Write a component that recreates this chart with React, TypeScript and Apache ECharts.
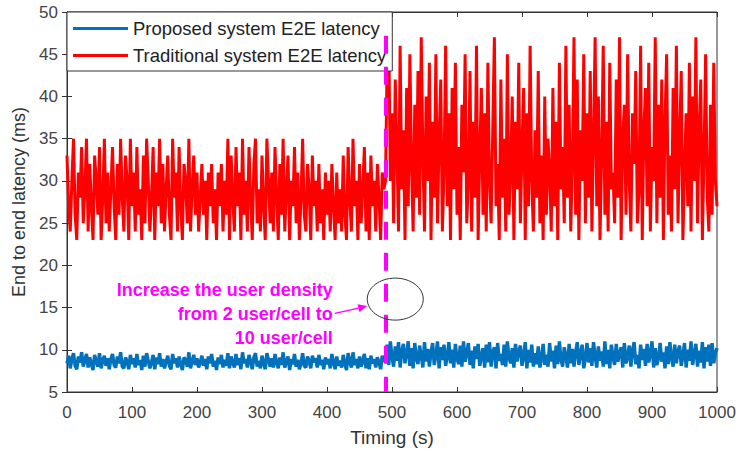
import React, { useEffect, useRef } from "react";
import * as echarts from "echarts";

// Sampling step of the recorded latency (seconds)
const STEP = 2.5;
const SWITCH_TIME = 490;

// Traditional system, 0 .. 490 s
const redBefore = [
  33, 27, 24, 30, 35, 26, 23, 31, 28, 34,
  25, 29, 35, 24, 32, 27, 23, 33, 30, 26,
  34, 23, 28, 35, 25, 31, 24, 29, 34, 27,
  23, 32, 26, 35, 28, 24, 33, 30, 23, 35,
  27, 31, 24, 34, 26, 29, 23, 33, 25, 35,
  30, 24, 28, 34, 23, 31, 27, 35, 25, 32,
  24, 29, 33, 26, 23, 35, 28, 31, 24, 34,
  27, 23, 32, 30, 25, 35, 24, 29, 33, 26,
  31, 24, 28, 32, 26, 30, 23, 31, 27, 32,
  25, 29, 23, 31, 27, 32, 24, 30, 26, 35,
  23, 33, 28, 24, 34, 27, 31, 23, 35, 26,
  30, 24, 34, 28, 23, 32, 35, 25, 29, 24,
  33, 27, 23, 35, 30, 25, 31, 24, 34, 28,
  23, 32, 26, 35, 24, 29, 33, 23, 30, 27,
  34, 25, 31, 23, 28, 35, 26, 24, 32, 29,
  23, 33, 27, 30, 24, 32, 25, 29, 23, 31,
  26, 30, 24, 32, 27, 23, 31, 25, 29, 24,
  33, 26, 23, 34, 28, 24, 35, 27, 30, 23,
  32, 25, 29, 34, 24, 31, 23, 33, 27, 30,
  24, 32, 28, 23, 31, 29, 30,
];
// Traditional system, 492.5 .. 1000 s
const redAfter = [
  44, 47, 30, 38, 25, 42, 34, 24, 46, 29,
  36, 23, 41, 27, 45, 32, 24, 39, 28, 43,
  26, 47, 33, 24, 40, 30, 44, 23, 37, 28,
  45, 25, 35, 42, 24, 31, 46, 27, 38, 23,
  41, 29, 44, 26, 34, 23, 39, 31, 45, 25,
  30, 43, 24, 37, 28, 46, 23, 33, 41, 26,
  38, 24, 44, 30, 25, 36, 47, 27, 32, 23,
  42, 28, 35, 24, 45, 26, 31, 40, 23, 37,
  29, 44, 25, 34, 41, 23, 38, 27, 46, 30,
  24, 36, 28, 43, 25, 33, 23, 40, 26, 35,
  31, 24, 41, 27, 37, 23, 44, 29, 34, 25,
  46, 28, 39, 24, 32, 47, 26, 42, 23, 36,
  30, 45, 25, 38, 28, 43, 24, 35, 47, 27,
  40, 23, 33, 46, 26, 37, 24, 44, 29, 31,
  25, 42, 28, 47, 23, 35, 39, 26, 45, 30,
  24, 38, 32, 43, 25, 29, 46, 23, 36, 41,
  27, 44, 24, 34, 30, 47, 25, 39, 28, 42,
  23, 37, 45, 26, 33, 24, 41, 29, 46, 25,
  35, 43, 23, 31, 38, 27, 44, 24, 40, 30,
  47, 25, 36, 42, 23, 33, 45, 28, 24, 39,
  26, 44, 30, 27,
];
// Proposed system, 0 .. 490 s
const blueBefore = [
  8.4, 9.3, 7.8, 8.9, 9.6, 8.1, 7.7, 9.2, 8.5, 9.7,
  8.0, 8.8, 9.5, 7.9, 9.1, 8.3, 7.6, 9.4, 8.6, 8.0,
  9.6, 7.8, 8.7, 9.3, 8.1, 9.0, 7.7, 8.9, 9.5, 8.2,
  7.9, 9.2, 8.4, 9.7, 8.0, 7.8, 9.1, 8.6, 7.7, 9.4,
  8.3, 9.0, 7.9, 9.5, 8.2, 8.8, 7.6, 9.3, 8.0, 9.6,
  8.7, 7.8, 8.5, 9.4, 7.7, 9.1, 8.3, 9.6, 8.0, 8.9,
  7.8, 8.6, 9.3, 8.1, 7.7, 9.5, 8.4, 9.0, 7.9, 9.2,
  8.3, 7.6, 9.1, 8.8, 8.0, 9.7, 7.8, 8.6, 9.4, 8.2,
  9.0, 7.9, 8.5, 9.3, 8.1, 8.9, 7.7, 9.2, 8.4, 9.5,
  8.0, 8.7, 7.6, 9.1, 8.3, 9.4, 7.9, 8.8, 8.1, 9.6,
  7.8, 9.2, 8.5, 7.9, 9.5, 8.2, 9.0, 7.7, 9.7, 8.4,
  8.9, 7.9, 9.4, 8.6, 7.7, 9.1, 9.6, 8.0, 8.7, 7.8,
  9.3, 8.4, 7.7, 9.6, 8.8, 8.0, 9.0, 7.9, 9.5, 8.5,
  7.8, 9.1, 8.2, 9.7, 7.9, 8.6, 9.2, 7.6, 8.9, 8.3,
  9.5, 8.0, 8.8, 7.7, 8.4, 9.6, 8.1, 7.9, 9.2, 8.7,
  7.8, 9.3, 8.5, 9.0, 7.9, 9.4, 8.2, 8.8, 7.7, 9.1,
  8.3, 8.9, 7.8, 9.5, 8.5, 7.7, 9.2, 8.1, 8.7, 7.9,
  9.4, 8.3, 7.6, 9.6, 8.6, 7.9, 9.7, 8.2, 8.9, 7.8,
  9.2, 8.0, 8.7, 9.5, 7.8, 9.0, 7.7, 9.3, 8.4, 8.9,
  7.9, 9.1, 8.5, 7.7, 9.3, 8.6, 8.8,
];
// Proposed system, 492.5 .. 1000 s
const blueAfter = [
  10.6, 8.2, 11.0, 9.1, 8.0, 10.4, 8.7, 10.9, 7.9, 9.8,
  10.7, 8.4, 9.5, 11.0, 8.1, 10.2, 7.8, 10.8, 9.0, 8.3,
  10.5, 9.3, 7.9, 10.9, 8.6, 10.1, 8.0, 9.7, 10.8, 8.2,
  9.4, 11.0, 7.8, 10.3, 8.8, 10.6, 8.1, 9.2, 10.9, 8.4,
  10.0, 7.9, 10.7, 9.0, 8.3, 10.5, 8.0, 11.0, 8.6, 9.6,
  10.8, 8.2, 9.9, 7.8, 10.4, 8.9, 10.7, 8.1, 9.3, 10.2,
  7.9, 10.6, 8.5, 10.9, 8.0, 9.7, 10.3, 7.8, 10.8, 8.7,
  9.5, 8.2, 10.6, 8.0, 11.0, 9.1, 8.4, 10.2, 7.9, 10.7,
  8.6, 9.8, 10.5, 8.1, 9.2, 10.9, 7.8, 10.0, 8.5, 10.6,
  8.0, 9.6, 8.3, 10.4, 7.9, 9.0, 10.7, 8.2, 9.4, 8.0,
  10.8, 8.6, 9.9, 7.8, 10.5, 8.3, 11.0, 8.9, 8.0, 10.3,
  9.2, 7.9, 10.7, 8.4, 10.1, 8.0, 9.7, 10.9, 8.2, 9.5,
  10.6, 7.8, 9.0, 10.8, 8.5, 10.2, 8.1, 10.9, 9.3, 7.9,
  10.4, 8.7, 9.8, 8.0, 11.0, 8.3, 10.0, 7.8, 10.6, 9.1,
  8.2, 10.7, 8.6, 9.5, 10.3, 7.9, 10.8, 8.4, 9.2, 10.5,
  8.0, 9.9, 10.9, 8.3, 9.4, 7.8, 10.6, 8.8, 10.1, 8.1,
  10.7, 8.5, 9.6, 11.0, 7.9, 10.2, 8.2, 9.0, 10.8, 8.6,
  9.7, 7.8, 10.4, 8.3, 10.9, 9.1, 8.0, 10.6, 8.4, 9.8,
  10.5, 8.1, 9.3, 10.8, 7.9, 10.0, 8.7, 11.0, 8.2, 9.5,
  10.7, 8.0, 9.9, 8.5, 10.9, 7.8, 10.3, 8.6, 10.6, 8.1,
  10.8, 8.4, 9.6, 10.2,
];

const seriesNames = ["Proposed system E2E latency", "Traditional system E2E latency"];
const annotationLines = ["Increase the user density", "from 2 user/cell to", "10 user/cell"];

const X_MIN = 0, X_MAX = 1000, X_INT = 100;
const Y_MIN = 5, Y_MAX = 50, Y_INT = 5;

const FONT = '"Liberation Sans", Arial, sans-serif';

function toPairs(before: number[], after: number[]) {
  const vals = before.concat(after);
  return vals.map((v, i) => [i * STEP, v]);
}

export default function App() {
  const ref = useRef<HTMLDivElement>(null);
  useEffect(() => {
    if (!ref.current) return;
    const chart = echarts.init(ref.current, null, { renderer: "svg" });
    const axisLabel = { color: "#444", fontSize: 17, fontFamily: FONT };
    const tick = { show: true, inside: true, length: 5, lineStyle: { color: "#333" } };
    const line = { show: true, lineStyle: { color: "#333" } };
    const option: any = {
      animation: false,
      grid: { left: 67, right: 22, top: 12, bottom: 61, show: true, borderColor: "#333", borderWidth: 1, backgroundColor: "transparent" },
      legend: {
        orient: "vertical",
        left: 67,
        top: 12,
        padding: [7, 6, 6, 6],
        itemGap: 8,
        itemWidth: 55,
        itemHeight: 3,
        icon: "rect",
        backgroundColor: "#fff",
        borderColor: "#333",
        borderWidth: 1,
        borderRadius: 0,
        textStyle: { fontSize: 18.5, lineHeight: 19, color: "#222", fontFamily: FONT },
        data: seriesNames,
      },
      xAxis: [
        {
          type: "value", min: X_MIN, max: X_MAX, interval: X_INT,
          name: "Timing (s)", nameLocation: "middle", nameGap: 36,
          nameTextStyle: { fontSize: 19, color: "#333", fontFamily: FONT },
          axisLine: line, axisTick: tick,
          axisLabel: { ...axisLabel, margin: 12, formatter: (v: number) => String(v) },
          splitLine: { show: false },
        },
        {
          type: "value", min: X_MIN, max: X_MAX, interval: X_INT, position: "top",
          axisLine: line, axisTick: tick, axisLabel: { show: false }, splitLine: { show: false },
        },
      ],
      yAxis: [
        {
          type: "value", min: Y_MIN, max: Y_MAX, interval: Y_INT,
          name: "End to end latency (ms)", nameLocation: "middle", nameGap: 37,
          nameTextStyle: { fontSize: 18, color: "#333", fontFamily: FONT },
          axisLine: line, axisTick: tick,
          axisLabel: { ...axisLabel, margin: 9 },
          splitLine: { show: false },
        },
        {
          type: "value", min: Y_MIN, max: Y_MAX, interval: Y_INT, position: "right",
          axisLine: line, axisTick: tick, axisLabel: { show: false }, splitLine: { show: false },
        },
      ],
      series: [
        {
          name: seriesNames[0], type: "line", showSymbol: false, symbol: "none",
          color: "#0072BD", lineStyle: { width: 3.4, color: "#0072BD" },
          data: toPairs(blueBefore, blueAfter),
        },
        {
          name: seriesNames[1], type: "line", showSymbol: false, symbol: "none",
          color: "#FF0000", lineStyle: { width: 3, color: "#FF0000" },
          data: toPairs(redBefore, redAfter),
          markLine: {
            silent: true, symbol: "none", label: { show: false },
            lineStyle: { color: "#FF00FF", width: 4, type: [18, 13] },
            data: [[{ coord: [SWITCH_TIME, 47.2] }, { coord: [SWITCH_TIME, Y_MIN] }]],
          },
        },
      ],
    };
    chart.setOption(option);

    const p = (x: number, y: number) => chart.convertToPixel({ xAxisIndex: 0, yAxisIndex: 0 }, [x, y]) as number[];
    const ellC = p(505, 16.0);
    const txt = p(409, 14.2);
    const a0 = [txt[0] + 2, txt[1] - 1];
    const a1 = [ellC[0] - 28, ellC[1] + 7];
    const ang = Math.atan2(a1[1] - a0[1], a1[0] - a0[0]);
    const hl = 9, hw = 4;
    const bx = a1[0] - hl * Math.cos(ang), by = a1[1] - hl * Math.sin(ang);
    const head = [
      [a1[0], a1[1]],
      [bx + hw * Math.sin(ang), by - hw * Math.cos(ang)],
      [bx - hw * Math.sin(ang), by + hw * Math.cos(ang)],
    ];
    chart.setOption({
      graphic: [
        { type: "ellipse", shape: { cx: ellC[0], cy: ellC[1], rx: 28, ry: 21 }, style: { fill: "none", stroke: "#333", lineWidth: 1 }, z: 10 },
        { type: "line", shape: { x1: a0[0], y1: a0[1], x2: bx, y2: by }, style: { stroke: "#FF00FF", lineWidth: 1.2 }, z: 10 },
        { type: "polygon", shape: { points: head }, style: { fill: "#FF00FF" }, z: 10 },
        {
          type: "text", x: txt[0], y: txt[1], z: 10,
          style: {
            text: annotationLines.join("\n"), fill: "#FF00FF", fontSize: 18, fontWeight: "bold",
            fontFamily: FONT, align: "right", verticalAlign: "middle", lineHeight: 24,
          },
        },
      ],
    });
    return () => chart.dispose();
  }, []);
  return <div ref={ref} style={{ width: 739, height: 453, position: "absolute", left: 0, top: 0 }} />;
}
